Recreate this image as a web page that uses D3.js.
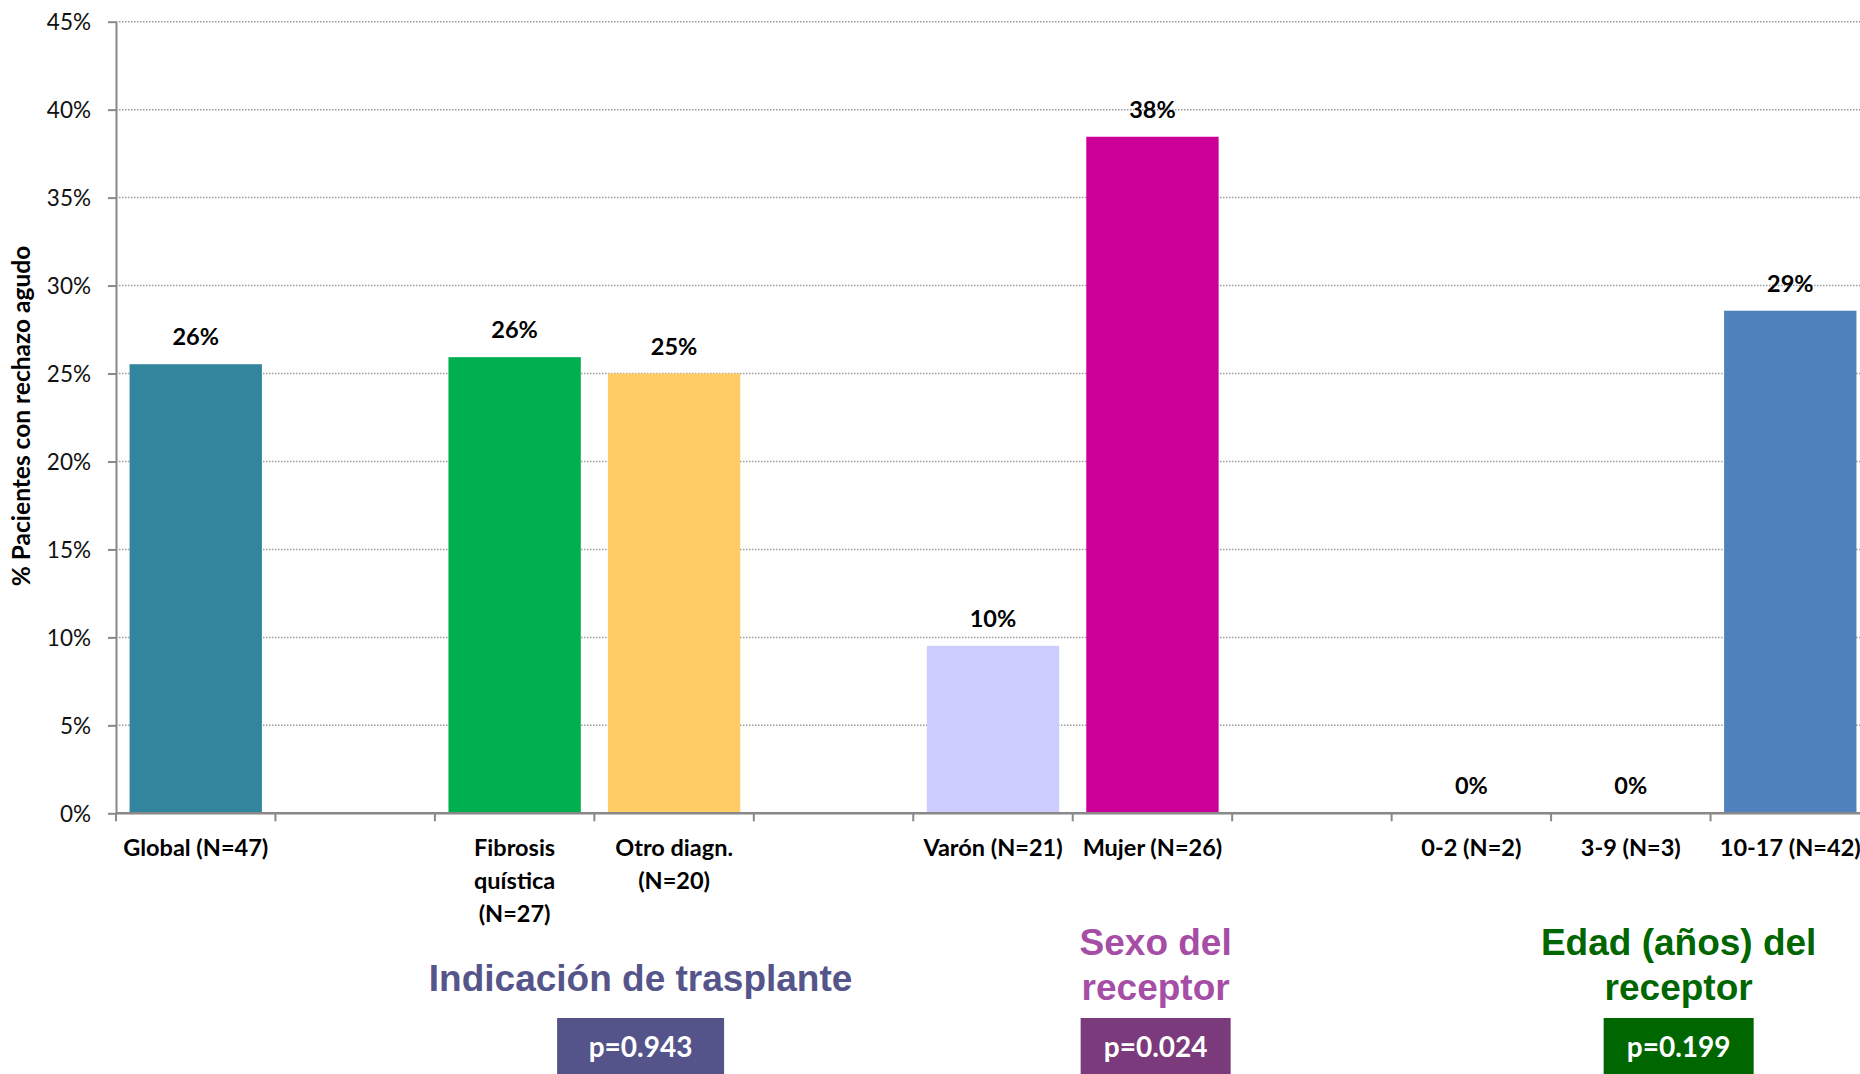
<!DOCTYPE html>
<html>
<head>
<meta charset="utf-8">
<script src="https://cdn.jsdelivr.net/npm/d3@7"></script>
<style>
  html, body { margin: 0; padding: 0; background: #ffffff; }
  svg { display: block; }
</style>
</head>
<body>
<svg id="chart" width="1860" height="1074"></svg>
<script>
// ---- data ----
const categories = ["Global (N=47)", "_gap1", "Fibrosis quística (N=27)", "Otro diagn. (N=20)", "_gap2",
                    "Varón (N=21)", "Mujer (N=26)", "_gap3", "0-2 (N=2)", "3-9 (N=3)", "10-17 (N=42)"];
const categoryLines = [["Global (N=47)"], [], ["Fibrosis", "quística", "(N=27)"], ["Otro diagn.", "(N=20)"], [],
                       ["Varón (N=21)"], ["Mujer (N=26)"], [], ["0-2 (N=2)"], ["3-9 (N=3)"], ["10-17 (N=42)"]];
const values = [25.53, null, 25.93, 25.0, null, 9.52, 38.46, null, 0, 0, 28.57];
const valueLabels = ["26%", "", "26%", "25%", "", "10%", "38%", "", "0%", "0%", "29%"];
const barColors = ["#31859C", null, "#00B050", "#FFCC66", null, "#CCCCFF", "#CC0099", null, "#4F81BD", "#4F81BD", "#4F81BD"];
const yTicks = [0, 5, 10, 15, 20, 25, 30, 35, 40, 45];
const yTitle = "% Pacientes con rechazo agudo";
const groupTitles = [["Indicación de trasplante"], ["Sexo del", "receptor"], ["Edad (años) del", "receptor"]];
const groupPValues = ["p=0.943", "p=0.024", "p=0.199"];
const groupTitleColors = ["#55558B", "#A64DA6", "#006600"];
const groupBoxColors = ["#54548A", "#7B3A7B", "#006600"];

(function () {
// ---- layout ----
const svg = d3.select("#chart");
const plotLeft = 116, plotRight = 1870, plotTop = 21.7, plotBottom = 813.3;

const x = d3.scaleBand().domain(categories).range([plotLeft, plotRight])
  .paddingInner(0.17).paddingOuter(0.085);
const y = d3.scaleLinear().domain([0, 45]).range([plotBottom, plotTop]);

const axisColor = "#888888";
const labelFont = "Lato, 'Open Sans', sans-serif";
const titleFont = "'Liberation Sans', Arial, sans-serif";

// gridlines
svg.append("g").selectAll("line").data(yTicks.filter(t => t > 0)).join("line")
  .attr("x1", plotLeft).attr("x2", 1860)
  .attr("y1", d => y(d)).attr("y2", d => y(d))
  .attr("stroke", "#9a9a9a").attr("stroke-width", 1.5)
  .attr("stroke-dasharray", "1.5,1.5");

// bars
const barData = categories.map((c, i) => ({c, v: values[i], color: barColors[i], label: valueLabels[i]}));
svg.append("g").selectAll("rect").data(barData.filter(d => d.v !== null && d.v > 0)).join("rect")
  .attr("x", d => x(d.c)).attr("width", x.bandwidth())
  .attr("y", d => y(d.v)).attr("height", d => y(0) - y(d.v))
  .attr("fill", d => d.color);

// value labels
svg.append("g").selectAll("text").data(barData.filter(d => d.v !== null)).join("text")
  .attr("x", d => x(d.c) + x.bandwidth() / 2)
  .attr("y", d => y(d.v) - 19)
  .attr("text-anchor", "middle")
  .attr("font-family", labelFont).attr("font-weight", "bold").attr("font-size", 23.5)
  .attr("fill", "#000").text(d => d.label);

// y axis
const yAxis = d3.axisLeft(y).tickValues(yTicks).tickFormat(d => d + "%").tickSize(8).tickSizeOuter(0);
const gy = svg.append("g").attr("transform", `translate(${plotLeft},0)`).call(yAxis);
gy.select(".domain").attr("stroke", axisColor).attr("stroke-width", 2);
gy.selectAll(".tick line").attr("stroke", axisColor).attr("stroke-width", 2);
gy.selectAll(".tick text").attr("font-family", labelFont).attr("font-size", 22.5)
  .attr("fill", "#111").attr("x", -25).attr("dy", "0.35em");

// x axis (ticks between categories)
const step = x.step();
const boundaries = d3.range(categories.length + 1).map(i => plotLeft + i * step);
const gx = svg.append("g");
gx.append("line").attr("x1", plotLeft).attr("x2", 1860).attr("y1", plotBottom).attr("y2", plotBottom)
  .attr("stroke", axisColor).attr("stroke-width", 2.5);
gx.selectAll("line.tk").data(boundaries).join("line").attr("class", "tk")
  .attr("x1", d => d).attr("x2", d => d).attr("y1", plotBottom).attr("y2", plotBottom + 8)
  .attr("stroke", axisColor).attr("stroke-width", 2);

// category labels
const catG = svg.append("g");
categories.forEach((c, i) => {
  const cx = x(c) + x.bandwidth() / 2;
  const t = catG.append("text").attr("text-anchor", "middle")
    .attr("font-family", labelFont).attr("font-weight", "bold").attr("font-size", 23.5).attr("fill", "#000");
  categoryLines[i].forEach((ln, j) => {
    t.append("tspan").attr("x", cx).attr("y", 856 + j * 33).text(ln);
  });
});

// y axis title
svg.append("text")
  .attr("transform", `translate(30,416) rotate(-90)`)
  .attr("text-anchor", "middle")
  .attr("font-family", labelFont).attr("font-weight", "bold").attr("font-size", 24.5)
  .attr("fill", "#000").text(yTitle);

// group titles and p-value boxes
const groupCenters = [3.29, 6.52, 9.80];   // in category-step units
const boxWidths = [167, 150, 150];
const titleBaselines = [[991], [955, 1000], [955, 1000]];
groupTitles.forEach((lines, g) => {
  const cx = plotLeft + groupCenters[g] * step;
  const t = svg.append("text").attr("text-anchor", "middle")
    .attr("font-family", titleFont).attr("font-weight", "bold").attr("font-size", 37)
    .attr("fill", groupTitleColors[g]);
  lines.forEach((ln, j) => t.append("tspan").attr("x", cx).attr("y", titleBaselines[g][j]).text(ln));
  svg.append("rect").attr("x", cx - boxWidths[g] / 2).attr("y", 1018)
    .attr("width", boxWidths[g]).attr("height", 56).attr("fill", groupBoxColors[g]);
  svg.append("text").attr("x", cx).attr("y", 1057).attr("text-anchor", "middle")
    .attr("font-family", labelFont).attr("font-weight", "bold").attr("font-size", 28)
    .attr("fill", "#fff").text(groupPValues[g]);
});
})();
</script>
</body>
</html>
